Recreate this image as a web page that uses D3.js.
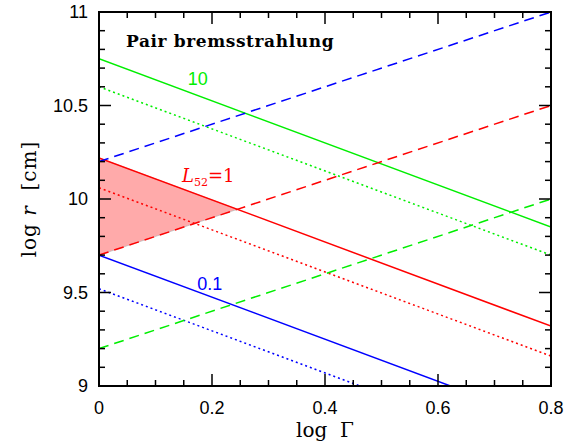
<!DOCTYPE html>
<html><head><meta charset="utf-8">
<script src="https://cdn.jsdelivr.net/npm/d3@7"></script>
<style>body{margin:0;background:#fff}</style>
</head><body>
<svg id="c" width="585" height="443"></svg>
<script>
// Data: lines of form log r = a + b * log Gamma
const xDomain = [0, 0.8];
const yDomain = [9, 11];
const xTicks = [0, 0.2, 0.4, 0.6, 0.8];
const xTickLabels = ["0", "0.2", "0.4", "0.6", "0.8"];
const yTicks = [9, 9.5, 10, 10.5, 11];
const yTickLabels = ["9", "9.5", "10", "10.5", "11"];
const lineNames = ["L=10 solid","L=1 solid","L=0.1 solid","L=10 dotted","L=1 dotted","L=0.1 dotted","L=0.1 dashed","L=1 dashed","L=10 dashed"];
const lineIntercepts = [10.75, 10.22, 9.70, 10.60, 10.06, 9.52, 10.2, 9.7, 9.2];
const lineSlopes = [-1.125, -1.125, -1.125, -1.125, -1.125, -1.125, 1, 1, 1];
const lineColors = ["#00ee00","#ff0000","#0000ff","#00ee00","#ff0000","#0000ff","#0000ff","#ff0000","#00ee00"];
const lineStyles = ["solid","solid","solid","dotted","dotted","dotted","dashed","dashed","dashed"];
const labelTexts = ["10", "0.1"];
const labelX = [0.175, 0.196];
const labelY = [10.61, 9.515];

const svg = d3.select("#c");
const m = {l:99, r:551, t:12, b:386};
const x = d3.scaleLinear().domain(xDomain).range([m.l, m.r]);
const y = d3.scaleLinear().domain(yDomain).range([m.b, m.t]);

const defs = svg.append("defs");
defs.append("clipPath").attr("id","clip").append("rect")
  .attr("x",m.l).attr("y",m.t).attr("width",m.r-m.l).attr("height",m.b-m.t);

// shaded region between red solid, red dashed and x=0
const aS = lineIntercepts[1], bS = lineSlopes[1], aD = lineIntercepts[7], bD = lineSlopes[7];
const xi = (aS - aD) / (bD - bS);
const tri = [[0, aS], [xi, aS + bS*xi], [0, aD]];
svg.append("path")
  .attr("d", d3.line().x(d=>x(d[0])).y(d=>y(d[1]))(tri) + "Z")
  .attr("fill", "#ffaaaa").attr("stroke", "#aaa").attr("stroke-width", 0.6);

const g = svg.append("g").attr("clip-path","url(#clip)");
const dash = {solid:null, dotted:"2,3", dashed:"10,6"};
lineIntercepts.forEach((a,i)=>{
  const b = lineSlopes[i];
  const pts = [[xDomain[0], a + b*xDomain[0]], [xDomain[1], a + b*xDomain[1]]];
  g.append("path")
    .attr("d", d3.line().x(d=>x(d[0])).y(d=>y(d[1]))(pts))
    .attr("fill","none").attr("stroke", lineColors[i]).attr("stroke-width", 1.5)
    .attr("stroke-dasharray", dash[lineStyles[i]]);
});

// frame
svg.append("rect").attr("x",m.l).attr("y",m.t).attr("width",m.r-m.l).attr("height",m.b-m.t)
  .attr("fill","none").attr("stroke","#000").attr("stroke-width",2);

// ticks
const tk = svg.append("g").attr("stroke","#000").attr("stroke-width",1.5);
const xMinor = d3.range(0, 0.8001, 0.05);
xMinor.forEach(v=>{
  const major = Math.abs(v/0.2 - Math.round(v/0.2)) < 1e-6;
  const L = major ? 12 : 6;
  tk.append("line").attr("x1",x(v)).attr("x2",x(v)).attr("y1",m.b).attr("y2",m.b-L);
  tk.append("line").attr("x1",x(v)).attr("x2",x(v)).attr("y1",m.t).attr("y2",m.t+L);
});
const yMinor = d3.range(9, 11.0001, 0.1);
yMinor.forEach(v=>{
  const major = Math.abs(v/0.5 - Math.round(v/0.5)) < 1e-6;
  const L = major ? 12 : 6;
  tk.append("line").attr("y1",y(v)).attr("y2",y(v)).attr("x1",m.l).attr("x2",m.l+L);
  tk.append("line").attr("y1",y(v)).attr("y2",y(v)).attr("x1",m.r).attr("x2",m.r-L);
});

const sans = "'Liberation Sans', Arial, sans-serif";
const serif = "'DejaVu Serif', 'Liberation Serif', serif";
xTicks.forEach((v,i)=>{
  svg.append("text").attr("x",x(v)).attr("y",m.b+28).attr("text-anchor","middle")
    .attr("font-family",sans).attr("font-size",18).text(xTickLabels[i]);
});
yTicks.forEach((v,i)=>{
  svg.append("text").attr("x",m.l-11).attr("y",y(v)+6).attr("text-anchor","end")
    .attr("font-family",sans).attr("font-size",18).text(yTickLabels[i]);
});

// axis titles
svg.append("text").attr("x",(m.l+m.r)/2).attr("y",437).attr("text-anchor","middle")
  .attr("font-family",serif).attr("font-size",20).attr("xml:space","preserve").text("log  Γ");
const yt = svg.append("text").attr("transform",`translate(36,${(m.t+m.b)/2}) rotate(-90)`)
  .attr("text-anchor","middle").attr("font-family",serif).attr("font-size",20)
  .attr("letter-spacing",1).attr("xml:space","preserve");
yt.append("tspan").text("log ");
yt.append("tspan").attr("font-style","italic").text("r");
yt.append("tspan").text("  [cm]");

// title
svg.append("text").attr("x",126).attr("y",47).attr("font-family",serif).attr("font-weight","bold")
  .attr("font-size",17).attr("letter-spacing",0.6).text("Pair bremsstrahlung");

// labels
svg.append("text").attr("x",x(labelX[0])).attr("y",y(labelY[0])).attr("font-family",sans)
  .attr("font-size",18).attr("fill","#00ee00").attr("text-anchor","middle").text(labelTexts[0]);
svg.append("text").attr("x",x(labelX[1])).attr("y",y(labelY[1])).attr("font-family",sans)
  .attr("font-size",18).attr("fill","#0000ff").attr("text-anchor","middle").text(labelTexts[1]);
const lt = svg.append("text").attr("x",182).attr("y",182).attr("font-family",serif)
  .attr("font-size",18).attr("fill","#ff0000");
lt.append("tspan").attr("font-style","italic").text("L");
lt.append("tspan").attr("font-size",11).attr("dy",4).text("52");
lt.append("tspan").attr("dy",-4).text("=1");
</script>
</body></html>
